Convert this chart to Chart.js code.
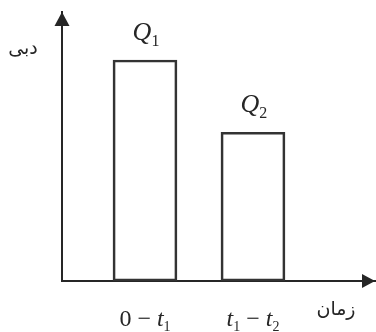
<!DOCTYPE html>
<html><head><meta charset="utf-8">
<script src="https://cdn.jsdelivr.net/npm/chart.js@4/dist/chart.umd.min.js"></script>
<style>html,body{margin:0;padding:0;background:#fff}</style>
</head><body>
<canvas id="c" width="376" height="332"></canvas>
<script>
const categories = ['0 − t_1', 't_1 − t_2'];
const barLabels = ['Q_1', 'Q_2'];
const flowValues = [3, 2.02];
const categoryPositions = [1, 2];
const yAxisTitle = 'دبی';
const xAxisTitle = 'زمان';

const INK = '#262626';

function drawMath(ctx, str, cx, baseline, size) {
  const parts = [];
  for (let i = 0; i < str.length; i++) {
    const ch = str[i];
    if (ch === '_') { parts.push({t: str[i+1], sub: true}); i++; continue; }
    parts.push({t: ch, italic: /[A-Za-z]/.test(ch)});
  }
  const subSize = Math.round(size * 0.6);
  const fontOf = p => p.sub ? `${subSize}px "Liberation Serif"` :
    (p.italic ? `italic ${size}px "Liberation Serif"` : `${size}px "Liberation Serif"`);
  let total = 0;
  parts.forEach(p => { ctx.font = fontOf(p); p.w = ctx.measureText(p.t).width; total += p.w; });
  let x = cx - total / 2;
  ctx.textAlign = 'left';
  ctx.textBaseline = 'alphabetic';
  parts.forEach(p => {
    ctx.font = fontOf(p);
    ctx.fillText(p.t, x, baseline + (p.sub ? size * 0.22 : 0));
    x += p.w;
  });
}

const annotate = {
  id: 'annotate',
  afterDraw(chart) {
    const ctx = chart.ctx;
    const a = chart.chartArea;
    const xs = chart.scales.x;
    ctx.save();
    ctx.fillStyle = INK;
    // y arrow
    ctx.beginPath();
    ctx.moveTo(a.left, a.top);
    ctx.lineTo(a.left - 7.5, a.top + 14);
    ctx.lineTo(a.left + 7.5, a.top + 14);
    ctx.closePath(); ctx.fill();
    // x arrow
    ctx.beginPath();
    ctx.moveTo(a.right, a.bottom);
    ctx.lineTo(a.right - 13, a.bottom - 7);
    ctx.lineTo(a.right - 13, a.bottom + 7);
    ctx.closePath(); ctx.fill();
    // bar labels
    const meta = chart.getDatasetMeta(0);
    meta.data.forEach((bar, i) => {
      drawMath(ctx, barLabels[i], bar.x + 1, bar.y - 20, 26);
    });
    // category labels
    categories.forEach((c, i) => {
      drawMath(ctx, c, xs.getPixelForValue(categoryPositions[i]), 326, 24);
    });
    // axis titles
    ctx.font = '19px "DejaVu Sans"';
    ctx.textAlign = 'center';
    ctx.textBaseline = 'middle';
    ctx.fillText(yAxisTitle, 23, 49);
    ctx.fillText(xAxisTitle, 336, 310);
    ctx.restore();
  }
};

new Chart(document.getElementById('c'), {
  type: 'bar',
  data: {
    datasets: [{
      data: categoryPositions.map((p, i) => ({x: p, y: flowValues[i]})),
      backgroundColor: 'rgba(255,255,255,0)',
      borderColor: '#333',
      borderWidth: 2,
      borderSkipped: false,
      barThickness: 64
    }]
  },
  options: {
    responsive: false,
    animation: false,
    devicePixelRatio: 1,
    layout: {padding: {left: 62, top: 12, right: 1, bottom: 51}},
    plugins: {legend: {display: false}, tooltip: {enabled: false}},
    scales: {
      x: {
        type: 'linear', min: 0.2315, max: 3.13, offset: false,
        grid: {display: false, drawTicks: false},
        ticks: {display: false},
        border: {display: true, color: INK, width: 2}
      },
      y: {
        min: 0, max: 3.652,
        grid: {display: false, drawTicks: false},
        ticks: {display: false},
        border: {display: true, color: INK, width: 2}
      }
    }
  },
  plugins: [annotate]
});
</script>
</body></html>
